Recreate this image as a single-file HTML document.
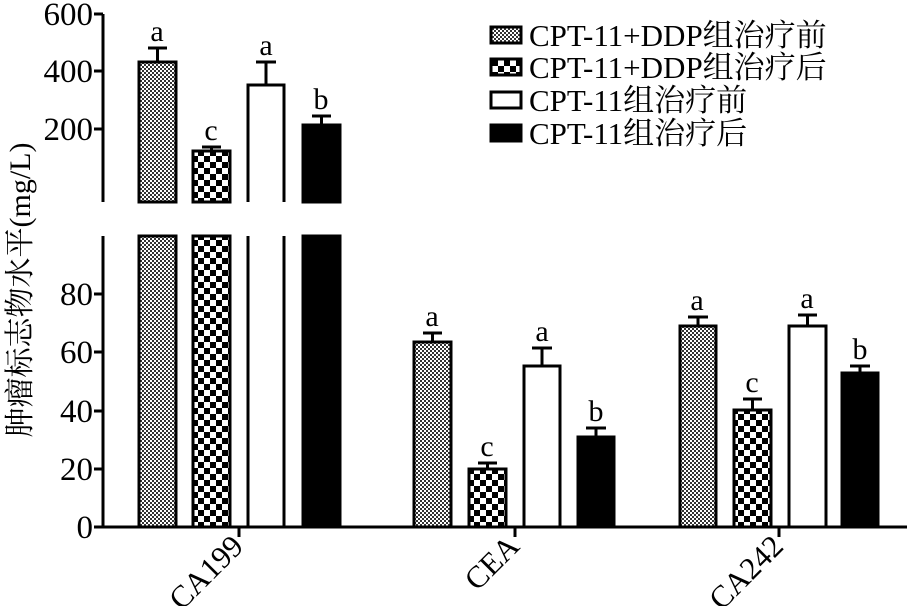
<!DOCTYPE html>
<html><head><meta charset="utf-8"><style>body{margin:0;background:#fff}svg{display:block}text{font-family:"Liberation Serif","Noto Serif CJK SC","Noto Sans CJK SC",serif;fill:#000}</style></head><body>
<svg width="907" height="606" viewBox="0 0 907 606" xmlns="http://www.w3.org/2000/svg">
<defs>
<pattern id="fine" width="4" height="4" patternUnits="userSpaceOnUse"><rect width="4" height="4" fill="#fff"/><rect width="2" height="2" fill="#333"/><rect x="2" y="2" width="2" height="2" fill="#333"/></pattern>
<pattern id="coarse" width="12" height="12" patternUnits="userSpaceOnUse"><rect width="12" height="12" fill="#fff"/><rect width="6" height="6" fill="#000"/><rect x="6" y="6" width="6" height="6" fill="#000"/></pattern>
</defs>
<g stroke="#000" stroke-width="3" fill="none">
<line x1="103" y1="14" x2="103" y2="202"/>
<line x1="103" y1="236" x2="103" y2="528"/>
<line x1="94" y1="14" x2="103" y2="14"/><line x1="94" y1="71" x2="103" y2="71"/><line x1="94" y1="129" x2="103" y2="129"/>
<line x1="94" y1="294" x2="103" y2="294"/><line x1="94" y1="352" x2="103" y2="352"/><line x1="94" y1="411" x2="103" y2="411"/><line x1="94" y1="469" x2="103" y2="469"/><line x1="94" y1="527" x2="103" y2="527"/>
<line x1="94" y1="527" x2="907" y2="527"/>
<line x1="239" y1="527" x2="239" y2="537"/><line x1="515" y1="527" x2="515" y2="537"/><line x1="779" y1="527" x2="779" y2="537"/>
</g>
<g font-size="33" text-anchor="end">
<text x="93" y="25">600</text><text x="93" y="82">400</text><text x="93" y="140">200</text>
<text x="93" y="305">80</text><text x="93" y="363">60</text><text x="93" y="422">40</text><text x="93" y="480">20</text><text x="93" y="538">0</text>
</g>
<text transform="translate(30,290) rotate(-90)" font-size="30" text-anchor="middle">肿瘤标志物水平(mg/L)</text>
<g font-size="31" text-anchor="end">
<text transform="translate(245,548) rotate(-45)">CA199</text>
<text transform="translate(521,548) rotate(-45)">CEA</text>
<text transform="translate(785,548) rotate(-45)">CA242</text>
</g>
<g stroke="#000" stroke-width="3">
<rect x="139" y="62" width="37" height="140" fill="url(#fine)"/>
<rect x="139" y="236" width="37" height="291" fill="url(#fine)"/>
<rect x="193" y="151" width="37" height="51" fill="url(#coarse)"/>
<rect x="193" y="236" width="37" height="291" fill="url(#coarse)"/>
<path d="M248 202V85H284V202M248 236V527M284 236V527" fill="none"/>
<rect x="303" y="125" width="37" height="77" fill="#000"/>
<rect x="303" y="236" width="37" height="291" fill="#000"/>
<rect x="414" y="342" width="37" height="185" fill="url(#fine)"/>
<rect x="469" y="469" width="37" height="58" fill="url(#coarse)"/>
<rect x="524" y="366" width="36" height="161" fill="#fff"/>
<rect x="578" y="437" width="36" height="90" fill="#000"/>
<rect x="680" y="326" width="36" height="201" fill="url(#fine)"/>
<rect x="734" y="410" width="37" height="117" fill="url(#coarse)"/>
<rect x="789" y="326" width="37" height="201" fill="#fff"/>
<rect x="842" y="373" width="36" height="154" fill="#000"/>
</g>
<g stroke="#000" stroke-width="3" fill="none">
<path d="M157.5 62V48M148 48H167"/>
<path d="M211.5 151V147M202 147H221"/>
<path d="M266 85V62M256 62H276"/>
<path d="M321.5 125V116M312 116H331"/>
<path d="M432.5 342V333M423 333H442"/>
<path d="M487.5 469V463M478 463H497"/>
<path d="M542 366V348M532 348H552"/>
<path d="M596 437V428M586 428H606"/>
<path d="M698 326V317M688 317H708"/>
<path d="M752.5 410V399M743 399H762"/>
<path d="M807.5 326V315M798 315H817"/>
<path d="M860 373V366M850 366H870"/>
</g>
<g font-size="30" text-anchor="middle">
<text x="157" y="41">a</text><text x="211" y="140">c</text><text x="266" y="55">a</text><text x="321" y="109">b</text>
<text x="432" y="326">a</text><text x="487" y="456">c</text><text x="542" y="341">a</text><text x="596" y="421">b</text>
<text x="697" y="310">a</text><text x="752" y="392">c</text><text x="807" y="308">a</text><text x="860" y="359">b</text>
</g>
<g stroke="#000" stroke-width="3">
<rect x="491" y="27" width="30" height="16" fill="url(#fine)"/>
<rect x="491" y="59" width="30" height="16" fill="url(#coarse)"/>
<rect x="491" y="92" width="30" height="16" fill="#fff"/>
<rect x="491" y="125" width="30" height="16" fill="#000"/>
</g>
<g font-size="31">
<text x="529" y="46">CPT-11+DDP组治疗前</text>
<text x="529" y="78">CPT-11+DDP组治疗后</text>
<text x="529" y="111">CPT-11组治疗前</text>
<text x="529" y="144">CPT-11组治疗后</text>
</g>
</svg>
</body></html>
